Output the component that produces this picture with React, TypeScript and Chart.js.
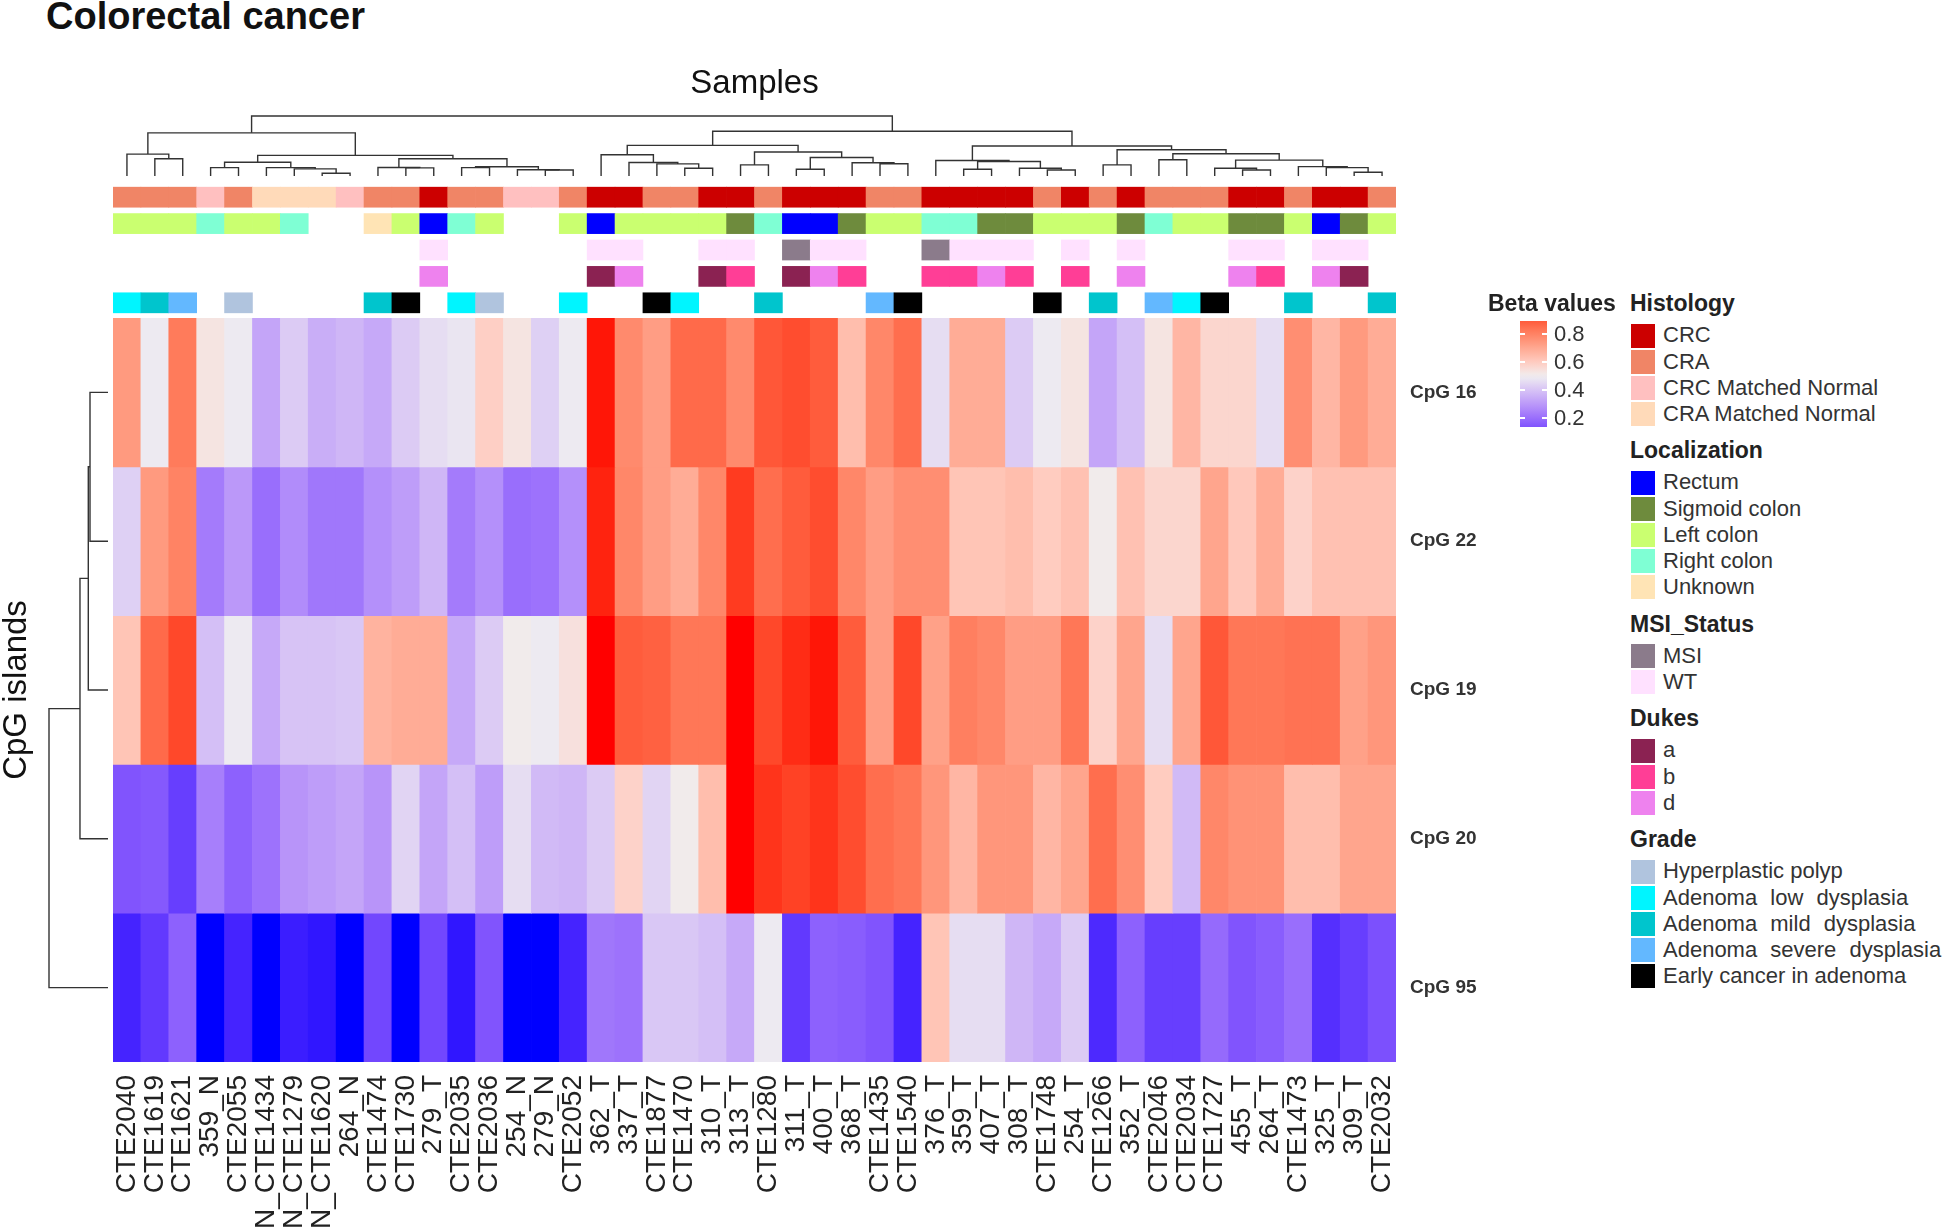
import React, { useEffect, useRef } from "react";
import { Chart, registerables } from "chart.js";
Chart.register(...registerables);

const FONT = "'Liberation Sans', Arial, Helvetica, sans-serif";

// ---------------- data ----------------
const samples = ["CTE2040","CTE1619","CTE1621","359_N","CTE2055","N_CTE1434","N_CTE1279","N_CTE1620","264_N","CTE1474","CTE1730","279_T","CTE2035","CTE2036","254_N","279_N","CTE2052","362_T","337_T","CTE1877","CTE1470","310_T","313_T","CTE1280","311_T","400_T","368_T","CTE1435","CTE1540","376_T","359_T","407_T","308_T","CTE1748","254_T","CTE1266","352_T","CTE2046","CTE2034","CTE1727","455_T","264_T","CTE1473","325_T","309_T","CTE2032"];

const cpgRows = ["CpG 16", "CpG 22", "CpG 19", "CpG 20", "CpG 95"];

const cpg16 = [0.74,0.49,0.82,0.53,0.49,0.33,0.42,0.35,0.37,0.34,0.42,0.46,0.48,0.59,0.53,0.43,0.49,0.99,0.78,0.73,0.86,0.86,0.78,0.90,0.92,0.89,0.64,0.79,0.85,0.46,0.69,0.69,0.42,0.49,0.53,0.33,0.39,0.53,0.66,0.57,0.57,0.46,0.77,0.66,0.74,0.69];
const cpg22 = [0.43,0.74,0.80,0.23,0.30,0.20,0.27,0.22,0.22,0.28,0.31,0.37,0.23,0.28,0.20,0.21,0.28,0.98,0.79,0.73,0.69,0.79,0.95,0.85,0.89,0.92,0.79,0.73,0.77,0.77,0.62,0.62,0.64,0.60,0.63,0.51,0.63,0.57,0.57,0.71,0.61,0.69,0.58,0.63,0.63,0.63];
const cpg19 = [0.62,0.86,0.93,0.39,0.49,0.34,0.40,0.40,0.41,0.67,0.69,0.69,0.34,0.42,0.51,0.49,0.54,1.0,0.89,0.88,0.83,0.83,1.0,0.93,0.97,0.99,0.89,0.73,0.93,0.72,0.81,0.79,0.73,0.73,0.83,0.58,0.71,0.46,0.71,0.90,0.83,0.83,0.84,0.84,0.72,0.75];
const cpg20 = [0.14,0.15,0.09,0.24,0.17,0.21,0.29,0.31,0.33,0.29,0.44,0.33,0.39,0.31,0.46,0.38,0.37,0.42,0.58,0.44,0.51,0.64,1.0,0.96,0.94,0.96,0.92,0.85,0.83,0.75,0.66,0.75,0.75,0.66,0.71,0.85,0.77,0.60,0.38,0.79,0.76,0.76,0.64,0.64,0.71,0.71];
const cpg95 = [0.04,0.08,0.17,0.0,0.04,0.0,0.03,0.02,0.0,0.11,0.0,0.11,0.02,0.14,0.0,0.0,0.04,0.22,0.21,0.41,0.41,0.39,0.34,0.49,0.08,0.17,0.16,0.14,0.04,0.62,0.46,0.46,0.37,0.34,0.42,0.05,0.17,0.09,0.09,0.19,0.14,0.16,0.20,0.06,0.09,0.13];
const betaValues = [cpg16, cpg22, cpg19, cpg20, cpg95];

const histology = ["CRA","CRA","CRA","CRC Matched Normal","CRA","CRA Matched Normal","CRA Matched Normal","CRA Matched Normal","CRC Matched Normal","CRA","CRA","CRC","CRA","CRA","CRC Matched Normal","CRC Matched Normal","CRA","CRC","CRC","CRA","CRA","CRC","CRC","CRA","CRC","CRC","CRC","CRA","CRA","CRC","CRC","CRC","CRC","CRA","CRC","CRA","CRC","CRA","CRA","CRA","CRC","CRC","CRA","CRC","CRC","CRA"];
const localization = ["Left colon","Left colon","Left colon","Right colon","Left colon","Left colon","Right colon",null,null,"Unknown","Left colon","Rectum","Right colon","Left colon",null,null,"Left colon","Rectum","Left colon","Left colon","Left colon","Left colon","Sigmoid colon","Right colon","Rectum","Rectum","Sigmoid colon","Left colon","Left colon","Right colon","Right colon","Sigmoid colon","Sigmoid colon","Left colon","Left colon","Left colon","Sigmoid colon","Right colon","Left colon","Left colon","Sigmoid colon","Sigmoid colon","Left colon","Rectum","Sigmoid colon","Left colon"];
const msiStatus = [null,null,null,null,null,null,null,null,null,null,null,"WT",null,null,null,null,null,"WT","WT",null,null,"WT","WT",null,"MSI","WT","WT",null,null,"MSI","WT","WT","WT",null,"WT",null,"WT",null,null,null,"WT","WT",null,"WT","WT",null];
const dukes = [null,null,null,null,null,null,null,null,null,null,null,"d",null,null,null,null,null,"a","d",null,null,"a","b",null,"a","d","b",null,null,"b","b","d","b",null,"b",null,"d",null,null,null,"d","b",null,"d","a",null];
const grade = ["Adenoma low dysplasia","Adenoma mild dysplasia","Adenoma severe dysplasia",null,"Hyperplastic polyp",null,null,null,null,"Adenoma mild dysplasia","Early cancer in adenoma",null,"Adenoma low dysplasia","Hyperplastic polyp",null,null,"Adenoma low dysplasia",null,null,"Early cancer in adenoma","Adenoma low dysplasia",null,null,"Adenoma mild dysplasia",null,null,null,"Adenoma severe dysplasia","Early cancer in adenoma",null,null,null,null,"Early cancer in adenoma",null,"Adenoma mild dysplasia",null,"Adenoma severe dysplasia","Adenoma low dysplasia","Early cancer in adenoma",null,null,"Adenoma mild dysplasia",null,null,"Adenoma mild dysplasia"];

const histologyLevels = ["CRC","CRA","CRC Matched Normal","CRA Matched Normal"];
const histologyColors = ["#CC0000","#F08566","#FFC0C0","#FFDAB9"];
const localizationLevels = ["Rectum","Sigmoid colon","Left colon","Right colon","Unknown"];
const localizationColors = ["#0000FF","#6E8B3D","#CAFF70","#7FFFD4","#FFE4B5"];
const msiLevels = ["MSI","WT"];
const msiColors = ["#8B7B8B","#FFE1FF"];
const dukesLevels = ["a","b","d"];
const dukesColors = ["#8B2252","#FF3E96","#EE82EE"];
const gradeLevels = ["Hyperplastic polyp","Adenoma low dysplasia","Adenoma mild dysplasia","Adenoma severe dysplasia","Early cancer in adenoma"];
const gradeColors = ["#B0C4DE","#00F5FF","#00C5CD","#63B8FF","#000000"];

// colour mapping of beta values (blue - light grey - red)
const colorBreaks = [0, 0.5, 1];
const colorStops = ["#0000FF", "#EFEEF0", "#FF0000"];
const legendTicks = [0.2, 0.4, 0.6, 0.8];
const legendRange = [0.136, 0.893];

// column dendrogram (hclust style: negative = leaf index+1, positive = merge row)
const colMerges = [
  [-2,-3,0.287],[-1,1,0.365],[-4,-5,0.14],[-8,-9,0.045],[-7,4,0.118],[-6,5,0.14],[3,6,0.23],
  [-11,-12,0.135],[-10,8,0.142],[-13,-14,0.14],[-16,-17,0.10],[-15,11,0.105],[10,12,0.155],
  [9,13,0.287],[7,14,0.343],[2,15,0.719],
  [-21,-22,0.129],[-20,17,0.202],[-19,18,0.225],[-18,19,0.354],[-23,-24,0.185],[-25,-26,0.112],
  [-28,-29,0.205],[-27,23,0.22],[22,24,0.309],[21,25,0.399],[20,26,0.51],
  [-31,-32,0.112],[-34,-35,0.10],[-33,29,0.129],[28,30,0.242],[-30,31,0.258],
  [-36,-37,0.185],[-38,-39,0.27],[-41,-42,0.10],[-40,35,0.129],[-45,-46,0.062],[-44,37,0.14],
  [-43,38,0.157],[36,39,0.265],[34,40,0.371],[33,41,0.438],[32,42,0.50],[27,43,0.747],[16,44,1.0]
];
const rowMerges = [[-1,-2,0.305],[1,-3,0.334],[2,-4,0.475],[3,-5,1.0]];

// ---------------- helpers ----------------
function hexToRgb(h: string) { const n = parseInt(h.slice(1), 16); return [(n >> 16) & 255, (n >> 8) & 255, n & 255]; }
function toLin(c: number) { c /= 255; return c <= 0.04045 ? c / 12.92 : Math.pow((c + 0.055) / 1.055, 2.4); }
function fromLin(c: number) { const v = c <= 0.0031308 ? 12.92 * c : 1.055 * Math.pow(Math.max(c, 0), 1 / 2.4) - 0.055; return Math.round(Math.min(1, Math.max(0, v)) * 255); }
const XN = 0.95047, YN = 1, ZN = 1.08883;
function rgbToLab(rgb: number[]) {
  const R = toLin(rgb[0]), G = toLin(rgb[1]), B = toLin(rgb[2]);
  const X = 0.4124564 * R + 0.3575761 * G + 0.1804375 * B;
  const Y = 0.2126729 * R + 0.7151522 * G + 0.072175 * B;
  const Z = 0.0193339 * R + 0.119192 * G + 0.9503041 * B;
  const f = (t: number) => (t > 0.008856 ? Math.cbrt(t) : 7.787 * t + 16 / 116);
  const fx = f(X / XN), fy = f(Y / YN), fz = f(Z / ZN);
  return [116 * fy - 16, 500 * (fx - fy), 200 * (fy - fz)];
}
function labToRgb(lab: number[]) {
  const fy = (lab[0] + 16) / 116, fx = fy + lab[1] / 500, fz = fy - lab[2] / 200;
  const fi = (t: number) => { const t3 = t * t * t; return t3 > 0.008856 ? t3 : (t - 16 / 116) / 7.787; };
  const X = XN * fi(fx), Y = YN * fi(fy), Z = ZN * fi(fz);
  const R = 3.2404542 * X - 1.5371385 * Y - 0.4985314 * Z;
  const G = -0.969266 * X + 1.8760108 * Y + 0.041556 * Z;
  const B = 0.0556434 * X - 0.2040259 * Y + 1.0572252 * Z;
  return [fromLin(R), fromLin(G), fromLin(B)];
}
const stopLabs = colorStops.map((h) => rgbToLab(hexToRgb(h)));
function betaColor(v: number) {
  const x = Math.min(colorBreaks[2], Math.max(colorBreaks[0], v));
  const k = x <= colorBreaks[1] ? 0 : 1;
  const t = (x - colorBreaks[k]) / (colorBreaks[k + 1] - colorBreaks[k]);
  const A = stopLabs[k], B = stopLabs[k + 1];
  const [r, g, b] = labToRgb([A[0] + (B[0] - A[0]) * t, A[1] + (B[1] - A[1]) * t, A[2] + (B[2] - A[2]) * t]);
  return `rgb(${r},${g},${b})`;
}

function dendroSegments(merges: number[][]) {
  const pos: number[] = [], hgt: number[] = [];
  const segs: { p: number; h: number }[][] = [];
  merges.forEach(([a, b, h], k) => {
    const pa = a < 0 ? -a - 1 : pos[a - 1], ha = a < 0 ? 0 : hgt[a - 1];
    const pb = b < 0 ? -b - 1 : pos[b - 1], hb = b < 0 ? 0 : hgt[b - 1];
    segs.push([{ p: pa, h: ha }, { p: pa, h }, { p: pb, h }, { p: pb, h: hb }]);
    pos[k] = (pa + pb) / 2; hgt[k] = h;
  });
  return segs;
}

const annotationTracks = [
  { name: "Histology", values: histology, levels: histologyLevels, colors: histologyColors },
  { name: "Localization", values: localization, levels: localizationLevels, colors: localizationColors },
  { name: "MSI_Status", values: msiStatus, levels: msiLevels, colors: msiColors },
  { name: "Dukes", values: dukes, levels: dukesLevels, colors: dukesColors },
  { name: "Grade", values: grade, levels: gradeLevels, colors: gradeColors },
];

const noPlugins = { legend: { display: false }, tooltip: { enabled: false } };

export default function App() {
  const topRef = useRef<HTMLCanvasElement>(null);
  const annRef = useRef<HTMLCanvasElement>(null);
  const heatRef = useRef<HTMLCanvasElement>(null);
  const rowRef = useRef<HTMLCanvasElement>(null);

  useEffect(() => {
    const charts: Chart[] = [];
    const lineDs = (pts: { x: number; y: number }[]) => ({
      data: pts, showLine: true, borderColor: "#333", borderWidth: 1.4, pointRadius: 0, clip: false as any, tension: 0,
    });

    // top dendrogram
    charts.push(new Chart(topRef.current!, {
      type: "scatter",
      data: { datasets: dendroSegments(colMerges).map((s) => lineDs(s.map((q) => ({ x: q.p, y: q.h })))) as any },
      options: {
        responsive: false, animation: false, events: [],
        layout: { padding: { left: 10, right: 10, top: 0, bottom: 4 } },
        plugins: {
          ...noPlugins,
          title: { display: true, text: "Samples", color: "#111", font: { family: FONT, size: 33, weight: "normal", lineHeight: 1.2 }, padding: { top: 7.2, bottom: 12.2 } },
        },
        scales: { x: { type: "linear", display: false, min: -0.5, max: samples.length - 0.5 }, y: { type: "linear", display: false, min: 0, max: 1 } },
      } as any,
    }));

    // annotations
    charts.push(new Chart(annRef.current!, {
      type: "bar",
      data: {
        labels: samples,
        datasets: annotationTracks.map((tr, r) => ({
          label: tr.name,
          data: tr.values.map((v) => (v == null ? null : [r + 0.12, r + 0.88])),
          backgroundColor: tr.values.map((v) => (v == null ? "rgba(0,0,0,0)" : tr.colors[tr.levels.indexOf(v)])),
          borderWidth: 0, grouped: false, barPercentage: 1, categoryPercentage: 1,
        })) as any,
      },
      options: {
        responsive: false, animation: false, events: [],
        layout: { padding: { left: 10, right: 10, top: 10, bottom: 2 } },
        plugins: noPlugins,
        scales: { x: { display: false }, y: { display: false, min: 0, max: 5, reverse: true } },
      } as any,
    }));

    // heatmap
    charts.push(new Chart(heatRef.current!, {
      type: "bar",
      data: {
        labels: samples,
        datasets: betaValues.map((vals, r) => ({
          label: cpgRows[r],
          data: vals.map(() => [r, r + 1]),
          backgroundColor: vals.map(betaColor),
          borderWidth: 0, grouped: false, barPercentage: 1, categoryPercentage: 1,
        })) as any,
      },
      options: {
        responsive: false, animation: false, events: [],
        layout: { padding: { left: 10, right: 0, top: 40, bottom: 0 } },
        plugins: noPlugins,
        scales: {
          x: {
            type: "category", position: "bottom",
            grid: { display: false, drawTicks: false }, border: { display: false },
            ticks: { autoSkip: false, maxRotation: 90, minRotation: 90, padding: 13, color: "#222", font: { family: FONT, size: 28 } },
            afterFit: (s: any) => { s.height = 169; },
          },
          y: {
            type: "linear", position: "right", min: 0, max: 5, reverse: true,
            grid: { display: false, drawTicks: false }, border: { display: false },
            afterBuildTicks: (s: any) => { s.ticks = cpgRows.map((_, i) => ({ value: i + 0.5 })); },
            ticks: { padding: 14, color: "#333", font: { family: FONT, size: 19, weight: "bold" }, callback: (v: any) => cpgRows[Math.floor(Number(v))] },
            afterFit: (s: any) => { s.width = 100; },
          },
        },
      } as any,
    }));

    // row dendrogram
    charts.push(new Chart(rowRef.current!, {
      type: "scatter",
      data: { datasets: dendroSegments(rowMerges).map((s) => lineDs(s.map((q) => ({ x: q.h, y: q.p })))) as any },
      options: {
        responsive: false, animation: false, events: [],
        layout: { padding: { left: 0, right: 10, top: 10, bottom: 10 } },
        plugins: noPlugins,
        scales: {
          x: { type: "linear", display: false, min: 0, max: 1, reverse: true },
          y: {
            type: "linear", position: "left", min: -0.5, max: cpgRows.length - 0.5, reverse: true,
            ticks: { display: false }, grid: { display: false, drawTicks: false }, border: { display: false },
            title: { display: true, text: "CpG islands", color: "#111", font: { family: FONT, size: 33, lineHeight: 1.0 }, padding: { top: 0.5, bottom: 0 } },
            afterFit: (s: any) => { s.width = 49; },
          },
        },
      } as any,
    }));

    return () => charts.forEach((c) => c.destroy());
  }, []);

  const txt = (key: string, text: string, x: number, y: number, size: number, bold: boolean, extra: any = {}) => (
    <div key={key} style={{ position: "absolute", left: x, top: y - size * 0.6, height: size * 1.2, lineHeight: `${size * 1.2}px`, fontSize: size, fontWeight: bold ? 700 : 400, color: "#333", whiteSpace: "pre", fontFamily: FONT, ...extra }}>{text}</div>
  );

  // legend layout
  const legendEls: any[] = [];
  let ly = 304;
  annotationTracks.forEach((tr) => {
    legendEls.push(txt("t" + tr.name, tr.name, 1630, ly, 23, true, { color: "#222" }));
    let last = ly;
    tr.levels.forEach((lv, k) => {
      const y = ly + 31.5 + 26.2 * k;
      last = y;
      legendEls.push(<div key={"b" + tr.name + k} style={{ position: "absolute", left: 1631, top: y - 12, width: 24, height: 24, background: tr.colors[k] }} />);
      legendEls.push(txt("l" + tr.name + k, lv, 1663, y, 22, false, lv.startsWith("Adenoma") ? { wordSpacing: "7px" } : {}));
    });
    ly = last + 37;
  });

  // colour bar
  const barTop = 321, barBottom = 427, barLeft = 1520, barW = 27;
  const gradStops: string[] = [];
  for (let i = 0; i <= 24; i++) {
    const v = legendRange[0] + ((legendRange[1] - legendRange[0]) * i) / 24;
    gradStops.push(`${betaColor(v)} ${((i / 24) * 100).toFixed(2)}%`);
  }
  const tickY = (v: number) => barBottom - ((v - legendRange[0]) / (legendRange[1] - legendRange[0])) * (barBottom - barTop);

  return (
    <div style={{ position: "absolute", left: 0, top: 0, width: 1946, height: 1231, overflow: "hidden", background: "#fff", fontFamily: FONT }}>
      {txt("title", "Colorectal cancer", 46, 16.5, 38, true, { color: "#111" })}
      <canvas ref={topRef} width={1303} height={123} style={{ position: "absolute", left: 103, top: 57, width: 1303, height: 123 }} />
      <canvas ref={annRef} width={1303} height={144} style={{ position: "absolute", left: 103, top: 174, width: 1303, height: 144 }} />
      <canvas ref={heatRef} width={1393} height={953} style={{ position: "absolute", left: 103, top: 278, width: 1393, height: 953 }} />
      <canvas ref={rowRef} width={118} height={764} style={{ position: "absolute", left: 0, top: 308, width: 118, height: 764 }} />
      {txt("beta", "Beta values", 1488, 304, 23, true, { color: "#222" })}
      <div style={{ position: "absolute", left: barLeft, top: barTop, width: barW, height: barBottom - barTop, background: `linear-gradient(to top, ${gradStops.join(", ")})` }} />
      {legendTicks.map((v) => (
        <React.Fragment key={"tk" + v}>
          <div style={{ position: "absolute", left: barLeft, top: tickY(v) - 1, width: 5, height: 2, background: "#fff" }} />
          <div style={{ position: "absolute", left: barLeft + barW - 5, top: tickY(v) - 1, width: 5, height: 2, background: "#fff" }} />
          {txt("tl" + v, v.toFixed(1), 1554, tickY(v), 22, false)}
        </React.Fragment>
      ))}
      {legendEls}
    </div>
  );
}
